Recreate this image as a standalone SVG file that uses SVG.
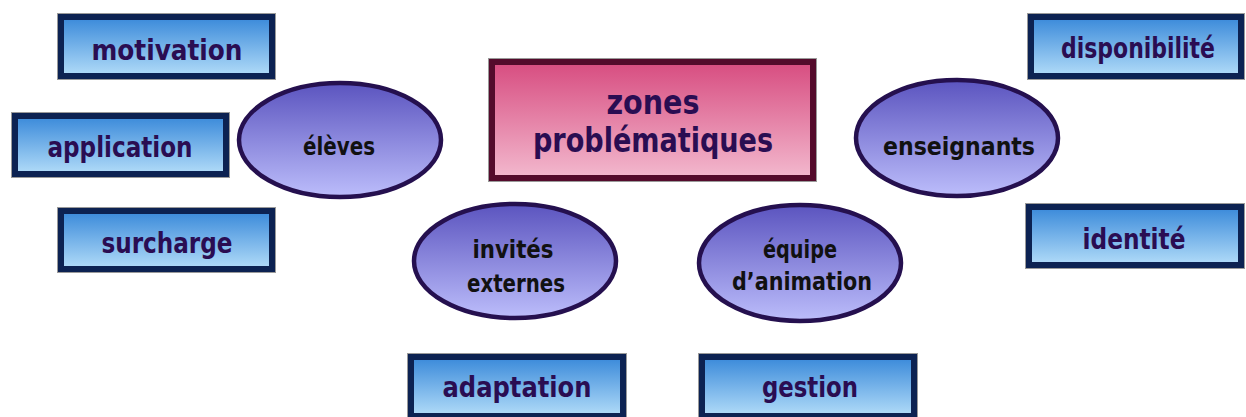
<svg xmlns="http://www.w3.org/2000/svg" width="1246" height="417" viewBox="0 0 1246 417">
<defs>
<linearGradient id="gBox" x1="0" y1="0" x2="0" y2="1">
<stop offset="0" stop-color="#3f8ddb"/>
<stop offset="1" stop-color="#acd8f7"/>
</linearGradient>
<linearGradient id="gEll" x1="0" y1="0" x2="0" y2="1">
<stop offset="0" stop-color="#5b54bf"/>
<stop offset="1" stop-color="#bcbdfb"/>
</linearGradient>
<linearGradient id="gMain" x1="0" y1="0" x2="0" y2="1">
<stop offset="0" stop-color="#d84f82"/>
<stop offset="1" stop-color="#f2b6cc"/>
</linearGradient>
</defs>
<style>
.frame{fill:#0c2252;stroke:#9a9a9a;stroke-width:1}
.inner{fill:url(#gBox)}
.lbl{font-family:"DejaVu Sans Condensed","DejaVu Sans",sans-serif;font-weight:bold;font-size:28px;fill:#2a0d52;text-anchor:middle}
.ell{fill:url(#gEll);stroke:#25104f;stroke-width:4.5}
.elbl{font-family:"DejaVu Sans Condensed","DejaVu Sans",sans-serif;font-weight:bold;font-size:25px;fill:#111;text-anchor:middle}
.mframe{fill:#540b2c;stroke:#9a9a9a;stroke-width:1}
.minner{fill:url(#gMain)}
.mlbl{font-family:"DejaVu Sans Condensed","DejaVu Sans",sans-serif;font-weight:bold;font-size:34px;fill:#2a0d52;text-anchor:middle}
</style>
<g id="connectors"/>
<g id="main">
<rect class="mframe" x="488.5" y="58.5" width="328" height="123"/>
<rect class="minner" x="495" y="65" width="315" height="110"/>
<text class="mlbl" x="653" y="114" textLength="93" lengthAdjust="spacingAndGlyphs">zones</text>
<text class="mlbl" x="653" y="152" textLength="240" lengthAdjust="spacingAndGlyphs">problématiques</text>
</g>
<g id="motivation">
<rect class="frame" x="57.5" y="13.5" width="218" height="66"/>
<rect class="inner" x="64" y="20" width="205" height="53"/>
<text class="lbl" x="167" y="60" textLength="151" lengthAdjust="spacingAndGlyphs">motivation</text>
</g>
<g id="application">
<rect class="frame" x="11.5" y="112.5" width="218" height="65"/>
<rect class="inner" x="18" y="119" width="205" height="52"/>
<text class="lbl" x="120" y="157" textLength="145" lengthAdjust="spacingAndGlyphs">application</text>
</g>
<g id="surcharge">
<rect class="frame" x="57.5" y="207.5" width="218" height="65"/>
<rect class="inner" x="64" y="214" width="205" height="52"/>
<text class="lbl" x="167" y="253" textLength="131" lengthAdjust="spacingAndGlyphs">surcharge</text>
</g>
<g id="disponibilite">
<rect class="frame" x="1027.5" y="13.5" width="217" height="66"/>
<rect class="inner" x="1034" y="20" width="204" height="53"/>
<text class="lbl" x="1138" y="58" textLength="154" lengthAdjust="spacingAndGlyphs">disponibilité</text>
</g>
<g id="identite">
<rect class="frame" x="1025.5" y="203.5" width="219" height="65"/>
<rect class="inner" x="1032" y="210" width="206" height="52"/>
<text class="lbl" x="1134" y="249" textLength="103" lengthAdjust="spacingAndGlyphs">identité</text>
</g>
<g id="adaptation">
<rect class="frame" x="407.5" y="353.5" width="219" height="66"/>
<rect class="inner" x="414" y="360" width="206" height="53"/>
<text class="lbl" x="517" y="397" textLength="149" lengthAdjust="spacingAndGlyphs">adaptation</text>
</g>
<g id="gestion">
<rect class="frame" x="698.5" y="353.5" width="219" height="66"/>
<rect class="inner" x="705" y="360" width="206" height="53"/>
<text class="lbl" x="810" y="397" textLength="96" lengthAdjust="spacingAndGlyphs">gestion</text>
</g>
<g id="eleves">
<ellipse class="ell" cx="340" cy="140" rx="101" ry="57"/>
<text class="elbl" x="339" y="155" textLength="72" lengthAdjust="spacingAndGlyphs">élèves</text>
</g>
<g id="enseignants">
<ellipse class="ell" cx="957" cy="138" rx="101" ry="58"/>
<text class="elbl" x="959" y="155" textLength="152" lengthAdjust="spacingAndGlyphs">enseignants</text>
</g>
<g id="invites">
<ellipse class="ell" cx="515" cy="261" rx="101" ry="57"/>
<text class="elbl" x="513" y="258" textLength="81" lengthAdjust="spacingAndGlyphs">invités</text>
<text class="elbl" x="516" y="292" textLength="98" lengthAdjust="spacingAndGlyphs">externes</text>
</g>
<g id="equipe">
<ellipse class="ell" cx="800" cy="263" rx="101" ry="58"/>
<text class="elbl" x="800" y="258" textLength="74" lengthAdjust="spacingAndGlyphs">équipe</text>
<text class="elbl" x="802" y="290" textLength="140" lengthAdjust="spacingAndGlyphs">d’animation</text>
</g>
</svg>
